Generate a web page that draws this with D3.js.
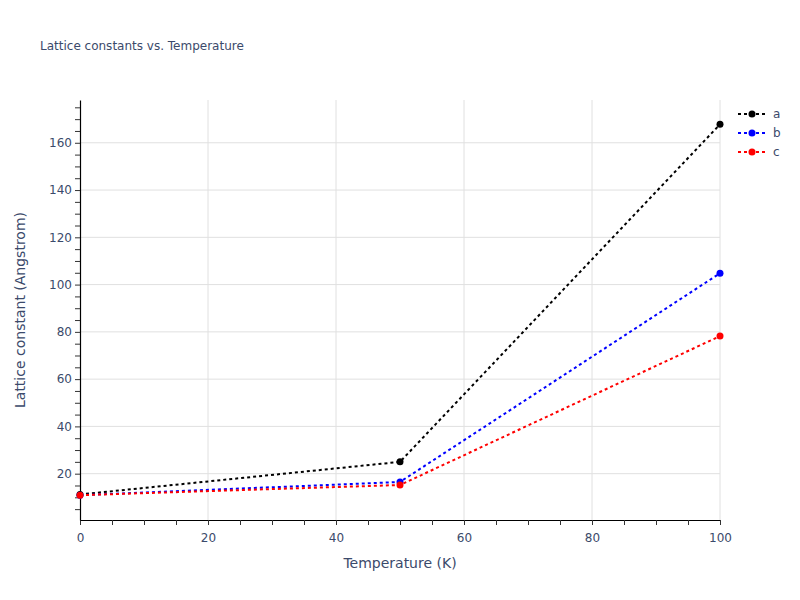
<!DOCTYPE html>
<html>
<head>
<meta charset="utf-8">
<script src="https://cdn.jsdelivr.net/npm/d3@7"></script>
<style>
  body { margin: 0; background: #fff; }
  text { font-family: "DejaVu Sans", Verdana, sans-serif; }
</style>
</head>
<body>
<svg width="800" height="600"></svg>
<script>
// data
var temperatures = [0, 50, 100];
var latticeA = [11.2, 25.0, 167.8];
var latticeB = [10.9, 16.5, 104.8];
var latticeC = [10.9, 15.2, 78.2];
var seriesNames = ['a', 'b', 'c'];
var seriesColors = ['black', 'blue', 'red'];
var xTickLabels = [0, 20, 40, 60, 80, 100];
var yTickLabels = [20, 40, 60, 80, 100, 120, 140, 160];

var allSeries = [latticeA, latticeB, latticeC];

var svg = d3.select('svg');
var plotLeft = 80, plotRight = 720, plotTop = 100, plotBottom = 520;
var textColor = '#3b4a6b';

var x = d3.scaleLinear().domain([0, 100]).range([plotLeft, plotRight]);
var y = d3.scaleLinear().domain([0.4, 178.1]).range([plotBottom, plotTop]);

// grid lines
svg.append('g').selectAll('line').data(xTickLabels.slice(1)).enter().append('line')
  .attr('x1', function(d) { return x(d); }).attr('x2', function(d) { return x(d); })
  .attr('y1', plotTop).attr('y2', plotBottom)
  .attr('stroke', '#e0e0e0').attr('stroke-width', 1);
svg.append('g').selectAll('line').data(yTickLabels).enter().append('line')
  .attr('x1', plotLeft).attr('x2', plotRight)
  .attr('y1', function(d) { return y(d); }).attr('y2', function(d) { return y(d); })
  .attr('stroke', '#e0e0e0').attr('stroke-width', 1);

// axes, ticks every 5 but labels every 20
var xAxis = d3.axisBottom(x).tickValues(d3.range(0, 101, 5)).tickSize(5).tickSizeOuter(0)
  .tickFormat(function(d) { return d % 20 === 0 ? d : ''; });
var yAxis = d3.axisLeft(y).tickValues(d3.range(5, 178, 5)).tickSize(5).tickSizeOuter(0)
  .tickFormat(function(d) { return d % 20 === 0 ? d : ''; });

var gx = svg.append('g').attr('transform', 'translate(0,' + plotBottom + ')').call(xAxis);
var gy = svg.append('g').attr('transform', 'translate(' + plotLeft + ',0)').call(yAxis);

[gx, gy].forEach(function(g) {
  g.select('.domain').attr('stroke', 'black').attr('stroke-width', 1.2);
  g.selectAll('.tick line').attr('stroke', '#333');
  g.selectAll('.tick text').attr('fill', textColor).style('font-size', '12px');
});
gx.selectAll('.tick text').attr('dy', '1.15em');
gy.selectAll('.tick text').attr('x', -8);

// lines and markers
var line = d3.line()
  .x(function(d, i) { return x(temperatures[i]); })
  .y(function(d) { return y(d); });

allSeries.forEach(function(vals, s) {
  svg.append('path').datum(vals)
    .attr('d', line)
    .attr('fill', 'none')
    .attr('stroke', seriesColors[s])
    .attr('stroke-width', 2)
    .attr('stroke-dasharray', '3,3');
  svg.append('g').selectAll('circle').data(vals).enter().append('circle')
    .attr('cx', function(d, i) { return x(temperatures[i]); })
    .attr('cy', function(d) { return y(d); })
    .attr('r', 3.5)
    .attr('fill', seriesColors[s]);
});

// title + axis titles
svg.append('text').attr('x', 40).attr('y', 50).text('Lattice constants vs. Temperature')
  .attr('fill', textColor).style('font-size', '12px');
svg.append('text').attr('x', (plotLeft + plotRight) / 2).attr('y', 568).attr('text-anchor', 'middle')
  .text('Temperature (K)').attr('fill', textColor).style('font-size', '14px');
svg.append('text').attr('transform', 'translate(25,' + (plotTop + plotBottom) / 2 + ') rotate(-90)')
  .attr('text-anchor', 'middle').text('Lattice constant (Angstrom)')
  .attr('fill', textColor).style('font-size', '14px');

// legend
var legend = svg.append('g').selectAll('g').data(seriesNames).enter().append('g')
  .attr('transform', function(d, i) { return 'translate(738,' + (114 + i * 19) + ')'; });
legend.append('line').attr('x1', 0).attr('x2', 28).attr('y1', 0).attr('y2', 0)
  .attr('stroke', function(d, i) { return seriesColors[i]; })
  .attr('stroke-width', 2).attr('stroke-dasharray', '3,3');
legend.append('circle').attr('cx', 14).attr('cy', 0).attr('r', 3.5)
  .attr('fill', function(d, i) { return seriesColors[i]; });
legend.append('text').attr('x', 35).attr('y', 4).text(function(d) { return d; })
  .attr('fill', textColor).style('font-size', '12px');
</script>
</body>
</html>
